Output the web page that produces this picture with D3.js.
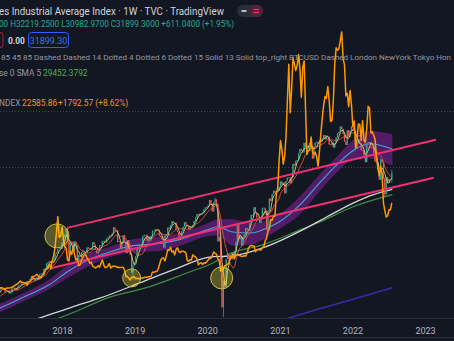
<!DOCTYPE html>
<html><head><meta charset="utf-8">
<script src="https://cdn.jsdelivr.net/npm/d3@7"></script>
<style>html,body{margin:0;padding:0;background:#131722;overflow:hidden}svg{display:block}</style>
</head><body><svg id="c" width="454" height="341"></svg>
<script>
// ---------- DATA ----------
const yearLabels = ["2018","2019","2020","2021","2022","2023"];
const firstWeek = "2016-10-03";   // Monday of first weekly bar
const lastWeek  = "2022-07-18";
// DJI weekly closes (thousands)
const djiClose = [
 18.24,18.14,18.15,18.16,17.89,18.85,18.87,19.15,19.17,19.76,19.84,19.93,19.76,
 19.96,19.89,19.83,20.09,20.07,20.27,20.62,20.82,21.01,20.90,20.91,20.60,20.66,20.66,20.45,20.55,20.94,21.01,20.90,20.80,21.08,21.21,21.27,21.38,21.39,21.35,21.41,21.64,21.58,21.83,22.09,21.86,21.67,21.81,21.99,21.80,22.27,22.35,22.41,22.77,22.87,23.33,23.43,23.54,23.42,23.36,23.56,24.23,24.33,24.65,24.75,24.72,
 25.30,25.80,26.07,26.62,25.52,24.19,25.22,25.31,24.54,25.34,24.95,23.53,24.10,23.93,24.36,24.46,24.31,24.26,24.83,24.72,24.75,24.64,25.32,25.09,24.58,24.27,24.46,25.02,25.06,25.45,25.46,25.31,25.67,25.79,25.96,25.92,26.15,26.74,26.46,26.45,25.34,25.44,24.69,25.27,25.99,25.41,24.29,25.54,24.39,24.10,22.45,23.06,
 23.43,23.99,24.71,24.74,25.06,25.11,25.88,26.03,26.03,25.45,25.85,25.50,25.93,26.42,26.41,26.56,26.54,26.50,25.94,25.76,25.59,24.82,25.98,26.09,26.72,26.60,26.92,27.33,27.15,27.19,26.49,26.29,25.89,25.63,26.40,26.80,27.22,26.94,26.82,26.57,26.82,26.77,26.96,27.35,27.68,28.00,27.88,28.05,28.02,28.14,28.46,28.65,
 28.63,28.82,29.35,28.99,28.26,29.10,29.40,28.99,25.41,25.86,23.19,19.17,21.64,21.05,23.72,24.24,23.78,23.72,24.33,23.69,24.47,25.38,27.11,25.61,25.87,25.02,25.83,26.08,26.67,26.47,26.43,27.43,27.93,27.93,28.65,28.13,27.67,27.66,27.17,27.68,28.59,28.61,28.34,26.50,28.32,29.48,29.26,29.91,30.22,30.05,30.18,30.20,
 30.61,31.10,30.81,31.00,29.98,31.15,31.46,31.49,30.93,31.50,32.78,32.63,33.07,33.15,33.80,34.20,34.04,33.87,34.78,34.38,34.21,34.53,34.76,34.48,33.29,34.43,34.79,34.87,34.69,35.06,34.94,35.21,35.52,35.12,35.46,35.37,34.61,34.58,34.80,34.33,34.75,35.29,35.68,35.82,36.33,36.10,35.60,34.90,34.58,35.97,35.37,35.95,36.34,
 36.23,35.91,34.27,34.73,35.09,34.74,34.08,34.06,33.61,32.94,34.75,34.86,34.82,34.72,34.45,33.81,32.98,32.90,32.20,31.26,33.21,32.90,31.39,29.89,31.50,31.10,31.34,31.29,31.90
];
// notable weekly wicks (thousands)
const djiWickDates = ["2018-01-22","2018-02-05","2018-12-24","2020-02-10","2020-03-16","2020-03-23","2022-01-03","2022-06-13","2022-07-18"];
const djiWickHigh  = [26.62, 25.52, 23.38, 29.57, 21.45, 21.70, 36.95, 31.50, 32.22];
const djiWickLow   = [25.80, 23.36, 21.71, 28.99, 19.09, 18.21, 35.90, 29.65, 30.98];
// BTC weekly closes (thousands)
const btcClose = [
 0.62,0.64,0.66,0.70,0.71,0.70,0.73,0.73,0.77,0.77,0.79,0.89,1.00,
 0.90,0.82,0.92,0.92,1.02,1.00,1.05,1.18,1.27,1.23,1.03,0.97,1.10,1.19,1.18,1.25,1.35,1.58,1.78,2.05,2.21,2.52,2.95,2.55,2.59,2.50,2.51,1.93,2.76,2.76,3.23,4.06,4.09,4.35,4.59,4.12,3.70,3.79,4.40,4.61,5.68,5.93,6.13,7.37,5.95,8.04,9.32,11.29,15.06,19.14,13.92,14.16,
 16.5,13.6,11.5,11.2,8.2,8.1,10.4,9.6,11.5,9.5,8.2,8.5,6.8,7.0,8.3,8.9,9.4,9.6,8.7,8.2,7.4,7.7,6.7,6.5,6.2,6.4,6.8,6.4,7.4,8.2,7.0,6.3,6.4,6.7,7.3,6.2,6.5,6.7,6.6,6.6,6.3,6.4,6.3,6.4,6.4,5.6,4.0,4.1,3.6,3.2,3.9,3.9,
 4.0,3.5,3.55,3.55,3.45,3.66,3.68,3.86,3.8,3.9,4.0,3.98,4.1,5.2,5.1,5.3,5.3,5.8,7.0,8.2,8.7,8.7,8.0,9.3,10.8,10.6,11.4,10.2,10.5,9.5,10.9,11.3,10.3,10.1,10.4,10.4,10.3,10.0,8.1,7.9,8.3,8.2,9.5,9.2,9.0,8.5,7.0,7.4,7.5,7.1,7.5,7.4,
 7.8,8.2,8.7,8.6,9.3,10.2,9.9,9.7,8.5,8.0,5.4,5.8,5.9,6.8,6.9,7.1,7.7,8.9,8.7,9.7,8.7,9.5,9.7,9.4,9.3,9.1,9.1,9.3,9.2,9.9,11.2,11.7,11.9,11.7,11.7,10.3,10.7,10.9,10.8,10.7,11.4,11.5,13.0,13.7,15.5,16.0,18.4,18.2,19.2,19.2,24.7,26.3,
 33.0,38.2,36.0,32.3,34.3,39.3,48.6,57.4,45.2,51.2,59.0,57.4,55.8,57.1,59.8,56.2,49.1,56.6,58.2,46.4,34.7,35.7,35.8,39.1,35.5,34.7,35.3,34.2,31.8,35.4,39.9,43.8,47.0,49.3,48.8,51.8,48.3,43.0,43.2,48.2,57.5,61.5,60.9,61.3,63.3,65.5,58.7,57.3,49.4,50.1,46.7,50.8,47.3,
 41.8,43.1,36.3,38.5,42.4,42.2,38.3,43.2,38.4,37.8,41.3,46.8,46.4,40.1,40.4,39.5,38.5,34.0,31.3,29.4,31.8,29.9,22.5,20.6,19.0,19.3,20.9,20.8,22.59
];
// slow averages: [decimal year, DJI thousands]
const ma50Knots = [[2016.9,18.5],[2017.15,19.1],[2017.5,20.2],[2017.83,21.3],[2018.07,22.5],[2018.35,23.6],[2018.66,24.4],[2018.98,25.0],[2019.35,25.2],[2019.63,25.6],[2020.0,26.5],[2020.15,26.8],[2020.35,26.3],[2020.6,26.2],[2020.86,26.8],[2021.0,27.3],[2021.28,28.9],[2021.55,31.0],[2021.83,33.0],[2022.0,34.0],[2022.24,34.7],[2022.55,34.2]];
const bandLower = [[2016.9,18.1],[2017.15,18.7],[2017.5,19.8],[2017.83,20.9],[2018.07,21.9],[2018.35,23.0],[2018.66,23.9],[2018.98,24.4],[2019.35,24.5],[2019.63,25.0],[2020.0,25.9],[2020.15,26.0],[2020.35,25.0],[2020.6,25.1],[2020.86,26.0],[2021.0,26.6],[2021.28,28.0],[2021.55,30.2],[2021.83,32.3],[2022.0,33.2],[2022.24,33.3],[2022.55,32.6]];
const bandUpper = [[2016.9,18.9],[2017.15,19.5],[2017.5,20.6],[2017.83,21.8],[2018.07,23.1],[2018.35,24.2],[2018.66,24.9],[2018.98,25.6],[2019.35,25.9],[2019.63,26.2],[2020.0,27.1],[2020.15,27.5],[2020.35,27.5],[2020.6,27.1],[2020.86,27.5],[2021.0,28.0],[2021.28,29.7],[2021.55,31.8],[2021.83,33.8],[2022.0,35.0],[2022.24,35.9],[2022.55,35.6]];
const whiteKnots = [[2017.62,17.95],[2017.9,18.6],[2018.2,19.3],[2018.52,20.0],[2019.07,21.45],[2019.53,22.7],[2020.08,23.95],[2020.31,24.0],[2020.77,24.8],[2021.37,26.7],[2021.65,27.75],[2022.01,29.05],[2022.29,29.85],[2022.55,30.35]];
const greenKnots = [[2017.95,18.1],[2018.07,18.4],[2018.66,20.1],[2019.21,21.1],[2019.72,22.4],[2020.08,23.35],[2020.3,24.2],[2020.77,25.1],[2021.28,26.5],[2021.55,27.25],[2022.01,28.7],[2022.55,29.85]];
const indigoKnots = [[2021.07,18.0],[2021.5,18.9],[2021.96,19.8],[2022.55,21.0]];
// trend channel drawn on chart: [decimal year, DJI thousands]
const channelUpper = [[2018.07,26.69],[2023.15,35.07]];
const channelLower = [[2017.86,22.88],[2023.12,31.45]];
// highlighted circles: [decimal year, DJI thousands]
const circleMarks = [[2017.93,25.93],[2018.96,21.93],[2020.2,21.93]];
const circleRadius = [12, 9, 11];
const gridLevels = [37.83, 32.5];
// legend texts
const titleText = "es Industrial Average Index · 1W · TVC · TradingView";
const ohlcText = "00 H32219.2500 L30982.9700 C31899.3000 +611.0400 (+1.95%)";
const lastPrice = "31899.30";
const settingsText = "85 45 85 Dashed Dashed 14 Dotted 4 Dotted 6 Dotted 15 Solid 13 Solid top_right BTCUSD Dashed London NewYork Tokyo Hon";
const smaLabel = "se 0 SMA 5", smaValue = "29452.3792";
const btcLabel = "NDEX", btcValue = "22585.86", btcChange = "+1792.57 (+8.62%)";

// ---------- HELPERS ----------
const svg = d3.select("#c");
const W = 454, H = 341, axisY = 318.5;
const dy = v => { const y = Math.floor(v); const s = new Date(y,0,1), e = new Date(y+1,0,1); return new Date(+s + (v-y)*(e-s)); };
const weeks = d3.timeMonday.range(new Date(firstWeek+"T00:00"), d3.timeDay.offset(new Date(lastWeek+"T00:00"),1));
const n = Math.min(weeks.length, djiClose.length, btcClose.length);

const x = d3.scaleTime().domain([new Date(2018,0,1), new Date(2023,0,1)]).range([62, 425]);
const yD = d3.scaleLinear().domain([18.214, 36.952]).range([317, 120]);
const yB = d3.scaleLinear().domain([0, 70]).range([292.7, 14]);

svg.append("rect").attr("width",W).attr("height",H).attr("fill","#131722");
svg.append("defs").append("clipPath").attr("id","plot").append("rect").attr("x",0).attr("y",0).attr("width",W).attr("height",axisY);
const g = svg.append("g").attr("clip-path","url(#plot)");

// grid
g.selectAll(".grid").data(gridLevels).join("line")
 .attr("x1",0).attr("x2",W).attr("y1",d=>Math.round(yD(d))+0.5).attr("y2",d=>Math.round(yD(d))+0.5)
 .attr("stroke","#434651").attr("stroke-width",1).attr("stroke-dasharray","1,2");

const knotLine = d3.line().x(d=>x(dy(d[0]))).y(d=>yD(d[1])).curve(d3.curveMonotoneX);

// purple ribbon
const band = bandLower.map((d,i)=>({t:d[0], lo:d[1], hi:bandUpper[i][1]}));
g.append("path").datum(band)
 .attr("d", d3.area().x(d=>x(dy(d.t))).y0(d=>yD(d.lo)).y1(d=>yD(d.hi)).curve(d3.curveMonotoneX))
 .attr("fill","rgba(142,36,170,0.5)");
g.append("path").datum(ma50Knots).attr("d",knotLine).attr("fill","none").attr("stroke","#42a5d8").attr("stroke-width",1.1);

// long averages
g.append("path").datum(indigoKnots).attr("d",knotLine).attr("fill","none").attr("stroke","#3a2aa8").attr("stroke-width",1.6);
g.append("path").datum(greenKnots).attr("d",knotLine).attr("fill","none").attr("stroke","#3f8f3f").attr("stroke-width",1.2);
g.append("path").datum(whiteKnots).attr("d",knotLine).attr("fill","none").attr("stroke","#d1d4dc").attr("stroke-width",1.3);

// candles
const bars = d3.range(n).map(i => ({date:weeks[i], open: i ? djiClose[i-1] : djiClose[i], close: djiClose[i]}));
bars.forEach(b => { b.high = Math.max(b.open,b.close); b.low = Math.min(b.open,b.close); });
djiWickDates.forEach((ds,k) => {
  const t = +new Date(ds+"T00:00");
  const b = bars.find(b => +b.date === t);
  if (b) { b.high = Math.max(b.high, djiWickHigh[k]); b.low = Math.min(b.low, djiWickLow[k]); }
});
const cg = g.append("g");
cg.selectAll("line").data(bars).join("line")
 .attr("x1",d=>x(d.date)).attr("x2",d=>x(d.date)).attr("y1",d=>yD(d.high)).attr("y2",d=>yD(d.low))
 .attr("stroke",d=>d.close>=d.open?"#26a69a":"#ef5350").attr("stroke-width",0.8);
cg.selectAll("rect").data(bars).join("rect")
 .attr("x",d=>x(d.date)-0.6).attr("width",1.2)
 .attr("y",d=>yD(Math.max(d.open,d.close))).attr("height",d=>Math.max(0.8, Math.abs(yD(d.open)-yD(d.close))))
 .attr("fill",d=>d.close>=d.open?"#26a69a":"#ef5350");

// short moving averages of the closes
const sma = len => bars.map((b,i)=> i>=len-1 ? {date:b.date, v:d3.mean(djiClose.slice(i-len+1,i+1))} : null).filter(Boolean);
const maLine = d3.line().x(d=>x(d.date)).y(d=>yD(d.v));
g.append("path").datum(sma(10)).attr("d",maLine).attr("fill","none").attr("stroke","#e0524f").attr("stroke-width",0.9);
g.append("path").datum(sma(4)).attr("d",maLine).attr("fill","none").attr("stroke","#d8cf62").attr("stroke-width",0.9);

// channel
[channelUpper, channelLower].forEach(c => {
  g.append("line").attr("x1",x(dy(c[0][0]))).attr("y1",yD(c[0][1])).attr("x2",x(dy(c[1][0]))).attr("y2",yD(c[1][1]))
   .attr("stroke","#f2306f").attr("stroke-width",2);
});

// BTC line
g.append("path").datum(d3.range(n).map(i=>({date:weeks[i], v:btcClose[i]})))
 .attr("d", d3.line().x(d=>x(d.date)).y(d=>yB(d.v)))
 .attr("fill","none").attr("stroke","#ff9800").attr("stroke-width",1.5).attr("stroke-linejoin","round");

// circles
g.selectAll(".mark").data(circleMarks).join("circle")
 .attr("cx",d=>x(dy(d[0]))).attr("cy",d=>yD(d[1])).attr("r",(d,i)=>circleRadius[i])
 .attr("fill","rgba(255,235,59,0.3)").attr("stroke","#c9bd45").attr("stroke-width",1);

// ---------- AXIS ----------
svg.append("line").attr("x1",0).attr("x2",W).attr("y1",axisY).attr("y2",axisY).attr("stroke","#2a2e39");
svg.append("line").attr("x1",0).attr("x2",W).attr("y1",337.5).attr("y2",337.5).attr("stroke","#2a2e39");
const ax = svg.append("g").attr("transform",`translate(0,${axisY})`)
 .call(d3.axisBottom(x).tickValues(yearLabels.map(s=>new Date(+s,0,1))).tickFormat(d3.timeFormat("%Y")).tickSize(0).tickPadding(9));
ax.select(".domain").remove();
ax.selectAll("text").attr("fill","#b2b5be").attr("font-family","Roboto, sans-serif").attr("font-size","9px");

// ---------- LEGEND ----------
const font = "Roboto, 'Noto Sans', sans-serif";
const T = (tx,xx,yy,size,fill,weight) => svg.append("text").attr("x",xx).attr("y",yy).attr("font-family",font)
  .attr("font-size",size+"px").attr("fill",fill).attr("font-weight",weight||400).text(tx);
T(titleText,-1,15,10.8,"#d1d4dc").attr("textLength",225).attr("lengthAdjust","spacingAndGlyphs");
T(ohlcText,-1,27,8.6,"#22ab94").attr("textLength",235).attr("lengthAdjust","spacingAndGlyphs");
// toggle pill
svg.append("rect").attr("x",237).attr("y",5).attr("width",26).attr("height",12).attr("rx",6).attr("fill","#2a2e39");
svg.append("rect").attr("x",250).attr("y",5).attr("width",13).attr("height",12).attr("rx",6).attr("fill","#5a1f3b");
svg.append("line").attr("x1",241.5).attr("x2",246.5).attr("y1",11).attr("y2",11).attr("stroke","#e0e3eb").attr("stroke-width",1.6);
[9.5,12.5].forEach(yy=>svg.append("line").attr("x1",253.5).attr("x2",259).attr("y1",yy).attr("y2",yy).attr("stroke","#f2306f").attr("stroke-width",1.2));
// price boxes
svg.append("rect").attr("x",-10).attr("y",32.5).attr("width",13).attr("height",15).attr("rx",3).attr("fill","none").attr("stroke","#b22833");
T("0.00",8,43.5,8.4,"#d1d4dc",700);
svg.append("rect").attr("x",28.5).attr("y",32.5).attr("width",40).attr("height",15).attr("rx",3).attr("fill","none").attr("stroke","#2962ff");
T(lastPrice,48.5,43.5,9,"#3d6cff").attr("text-anchor","middle");
T(settingsText,1,59.5,7.7,"#9598a1").attr("textLength",450).attr("lengthAdjust","spacingAndGlyphs");
T(smaLabel,-1,76,8.4,"#9598a1");
T(smaValue,43,76,8.4,"#4caf50");
T(btcLabel,-1,106,8.4,"#9598a1");
T(btcValue,22,106,8.4,"#f7931a");
T(btcChange,58,106,8.4,"#f7931a");
</script></body></html>
